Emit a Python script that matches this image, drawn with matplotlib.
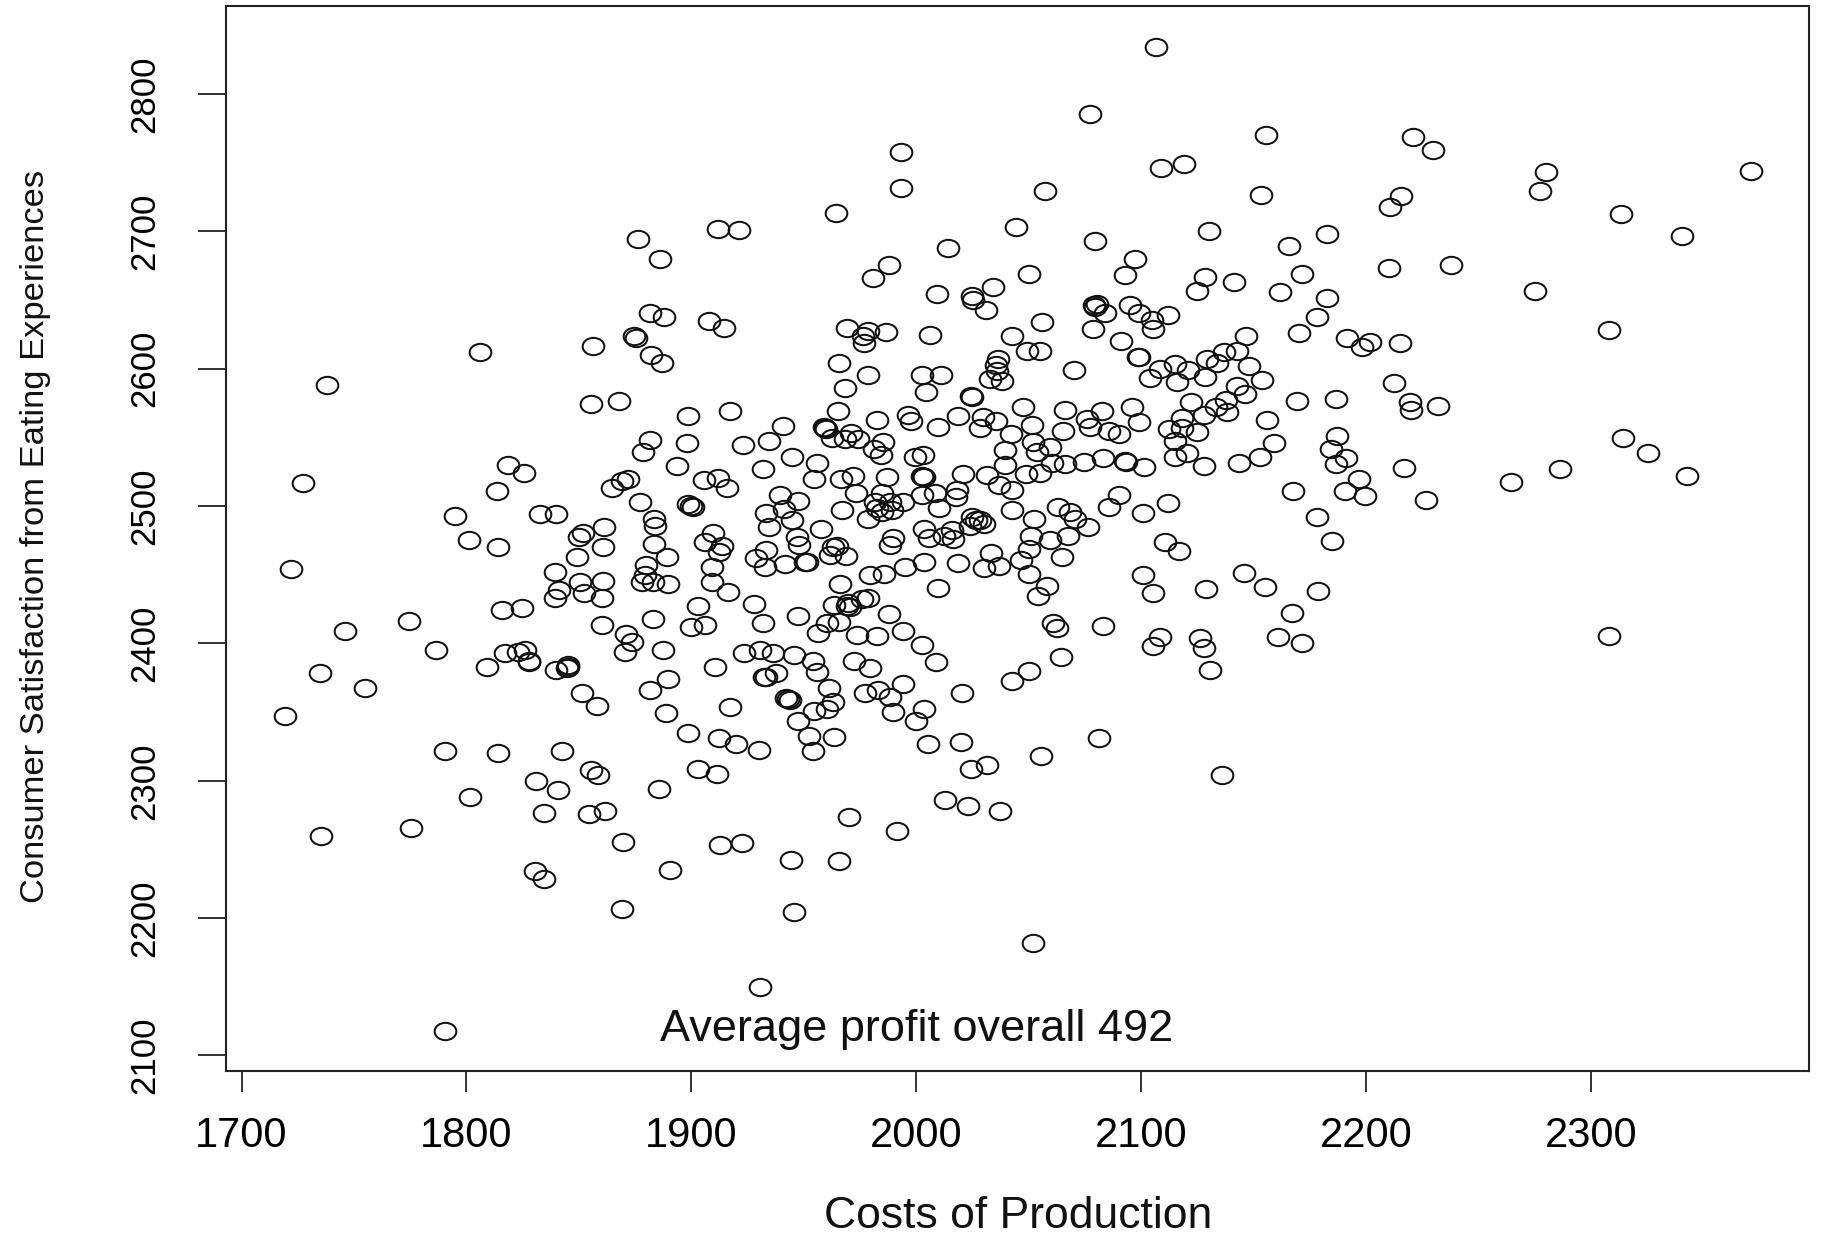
import matplotlib
matplotlib.use("Agg")
import matplotlib.pyplot as plt
from matplotlib.markers import MarkerStyle
from matplotlib.transforms import Affine2D

costs = [
1881.6,1887.9,1907.9,1914.3,1874.7,1875.4,1856.2,1806.2,1882,1887.1,1969.1,1978.7,1986.6,1976.5,1976.8,1965.7,1978.4,1968.5,1855.3,1867.9,
1898.4,1917.2,1965.1,1982.4,1940.9,1959.4,1959,1959.9,1962.4,1968.3,1970.9,1974.3,1985.4,1981.4,1984.4,1934.3,1923.1,1881.6,1878.4,1898.1,
1893.5,1944.6,1956,1931.7,1954.6,1966.4,1972,1987.2,1818.5,1825.5,1813.5,1872,1869,1864.9,1905.7,1912,1916,1877.3,1939.2,1947.2,
1973.1,1941.2,1933.1,1944.9,1934.3,1966.9,1957.8,1978.7,1981.7,1984.6,1988.4,1982.4,1984.6,1989.1,1898.3,1899.9,1900.9,1794.7,1832.9,1839.6,
1883.6,1883.7,1861.2,1852,1850,1801.3,1814.2,1860.6,1883.4,1909.4,1906.1,1913.5,1912.3,1849.3,1889.1,1879.7,1909.2,1933.2,1928.8,1932.6,
1941.7,1946.9,1947.9,1950.6,1951.6,1964.6,1962.9,1961.7,1968.8,1989.5,1988.4,1839.4,1850.5,1860.6,1841.3,1852.3,1839.3,1860.2,1879.4,1877.9,
1883.1,1889.8,1909.2,1916.5,1979.5,1985.7,1966.1,1927.9,1903.1,1978.7,1975.8,1969.8,1969.1,1963.2,1970.6,1815.7,1824.9,1947.6,1987.9,1774.6,
1883,1899.9,1906.1,1932,1860.2,1965.8,1960.5,1956.2,1973.5,1982.4,1870.8,1873.5,
1786.5,1817.2,1823.1,1826,1827.6,1828,1870.5,1887.3,1923.4,1930.6,1936.5,1945.8,1954.3,1955.8,1972.3,1979.2,1809,1839.7,1845.3,1845,
1844.6,1910.7,1937.5,1933.2,1932.3,1889.8,1881.6,1851.3,1858.2,1888.8,1917.1,1942.1,1943.1,1943.9,1961.4,1962.9,1960.5,1954.6,1947.6,1977.2,
1983.2,1988.4,1989.8,1898.5,1912.3,1919.9,1930.1,1952.3,1963.2,1954,1790.4,1814.2,1842.4,1855.4,1858.4,1903.1,1911.3,1831,1840.5,
1885.7,1801.8,1834.5,1854.4,1861.8,1775.5,1970.1,1991.3,1869.6,1912.6,1922.4,1944.2,1965.5,1830.5,1834.5,1890.5,1869.3,1945.5,1930.3,
2030.9,2056.1,2078.8,2079.5,2080.2,2084,2095,2099.2,2104.7,2112.1,2105.4,2078.5,2178.3,2170.2,2042.6,2006.3,
2091.2,2146.5,2191.4,2201.8,2198.1,2215.2,2049.1,2055,2036.5,2035.5,2035.8,2032.8,2038,2098.8,2098.5,2069.9,2142.8,2136.6,2129.1,2133.9,
2148.1,2115.1,2108.4,2121,2104,2115.8,2128.3,2153.9,2002.7,2011.2,2004.2,2024.7,2024.4,2142.8,2146.2,2169.4,2186.5,2212.6,2122.2,2137.7,
2133.3,2138,2128,2118,2047.6,2066.2,2082.6,2095.8,2099.2,2076.1,2077.3,2085.9,2090.2,2065.4,2156.1,2112.5,2118,2124.7,1996.5,1997.7,
2009.7,2018.7,2029.6,2035.5,2028.4,2051.3,2042.1,2052.1,2059.5,2053.6,2039.6,2115.2,2159.1,2187,2184.4,2191.1,2186.5,2216.8,2003.2,1999.5,
2114.9,2120.2,2152.9,2143.4,2127.8,2060.2,2066.2,2074.5,2082.9,2092.8,2093.3,2101.1,2039.3,2048.8,2055,2020.7,2031.6,2002.9,2002.4,2003.5,
2196.7,2167.7,2190.6,2199.7,2036.8,2042.7,2018,2017.7,2002.4,2008.1,2010.1,1994.3,2090,2085.9,2112.1,2101,2042.7,2062.9,2068.4,2070.6,
2076.2,2052.5,2178,2024.7,2026.6,2029.9,2028.4,2023.9,2003.6,2015.8,2005.8,2012.1,2016.5,2050.9,2059.5,2067.6,2185,2110.6,2117,
2050.2,2064.8,2033.1,2046.4,2003.5,2018.6,2029.9,2036.7,1995,2050.2,2101,2145.9,2155.1,2128.8,2178.5,2105.4,2009.7,2058.2,2054,2167,
2061,2062.5,2082.9,1994.3,2002.4,2108.4,2105.4,2126.2,2128,2161,2171.4,
2008.7,2064.2,2130.5,2050.2,2042.7,1994.3,2020.5,2003.6,1999.9,2005.2,2019.9,2081.4,2055.5,2135.8,2024.2,2031.6,2012.7,2023.2,2037,2052.1,
2106.7,2077.3,2155.3,2220.9,2229.7,1993,2119.1,2108.8,2279.8,2371.3,1993,2057.1,2277.2,2153.2,2215.7,2210.6,1964.1,2313.4,2044.2,2130,
1911.9,1921.2,2182.6,2340.3,1876.3,2079.3,2014.2,2165.6,1886.1,2097.4,1987.9,2237.9,2210.1,1980.6,2049.9,2092.8,2171.3,2128.4,2141.3,2033.9,
2275.2,2124.8,2161.5,2009.1,2024.6,2025.1,2182.6,2308.2,2219.4,2219.9,2231.8,2264.3,2286,2314.4,2325.3,2342.8,2308.2,2226.6,
1737.8,1727.5,1721.8,1746,1734.7,1754.8,1719.2,1735.2,1790.5,
]

satisfaction = [
2640.4,2638,2635,2629.5,2623.9,2622.7,2616.6,2612.2,2610,2604,2629.5,2627.8,2626.8,2623.9,2619,2604,2595.7,2585.8,2574.6,2576.3,
2565.4,2569.2,2569.2,2562.9,2558.6,2556.6,2557.3,2555.9,2549.3,2548.9,2553,2548.9,2546.9,2541.6,2537.2,2547.2,2544.7,2548.1,2539.6,2546.2,
2529.2,2535.5,2531.1,2527,2520,2520,2522.1,2520.9,2530.2,2524.1,2511,2519.7,2518.3,2513.4,2518.7,2520.4,2512.9,2503.2,2508,2503.4,
2509.3,2497.9,2494.7,2489.8,2484.5,2497.1,2483.1,2490.3,2503.2,2509.8,2503.2,2498.3,2495.9,2497.1,2501.5,2500,2499.6,2493,2494.2,2494.5,
2490.3,2485.5,2484.8,2480.1,2477.2,2475.3,2469.9,2469.9,2472.6,2480.6,2474.1,2471.2,2466.8,2462.9,2462.9,2457.1,2455.9,2468.2,2462.4,2455.9,
2458.1,2477.2,2471.6,2459,2459.5,2470.9,2469.9,2464.4,2463.6,2476.5,2471.6,2451.7,2444.4,2445.4,2438.9,2436.7,2432.8,2432.8,2449.8,2444.9,
2444.9,2443,2444.9,2437.4,2449.5,2450.5,2443,2428.7,2427.2,2433.3,2432.1,2429.2,2427.2,2428,2426.2,2424.3,2426,2419.9,2421.6,2416.3,
2418,2411.9,2413.6,2415.1,2413.4,2415.8,2415.1,2407.8,2406.1,2405.6,2406.8,2401.2,
2395.2,2393.3,2394,2395,2387.4,2386.7,2394,2395.2,2393.3,2395,2393.3,2391.6,2387.2,2379,2387.2,2381.8,2382.6,2380.6,2384.3,2383.1,
2381.8,2382.6,2378.7,2375.8,2375.3,2373.8,2366,2363.6,2354.4,2349.1,2353.9,2360.5,2359.3,2358.8,2367.8,2357.1,2352,2350.8,2343.7,2364.1,
2366,2361.2,2350.3,2335,2331.1,2326.7,2322.4,2332.6,2331.6,2321.4,2321.6,2319.9,2321.9,2307.8,2304.2,2308.5,2304.6,2299.8,2293.5,
2293.7,2288.1,2276.2,2275.7,2278.2,2265.8,2273.3,2263.6,2255.1,2253.2,2254.4,2242.5,2241.8,2234.2,2228.6,2234.9,2206.3,2204.4,2150,
2642.8,2633.8,2646.5,2645.2,2647.2,2640.9,2646.5,2640.9,2635.5,2639.2,2629,2628.7,2638,2625.8,2624.1,2624.8,
2620,2623.9,2622.7,2619.8,2616.1,2619,2613.2,2612.7,2607.1,2602.8,2598.6,2592.6,2591.1,2608.8,2608.3,2599.1,2613,2612.5,2606.9,2604,
2602.3,2603.2,2599.6,2599.1,2593,2590.1,2594.3,2591.8,2595.2,2595.5,2583.1,2579.7,2580.2,2587.5,2581.6,2576.5,2578,2589.6,2575.6,2577.3,
2571.9,2568.8,2566.3,2563.9,2572.4,2569.7,2569,2572.4,2561.2,2563.2,2557.8,2554.7,2552.3,2554.4,2562.9,2556.1,2556.6,2553.7,2566.3,2562,
2557.8,2565.4,2565.1,2562,2556.6,2559.3,2552.5,2546.7,2542.8,2539.4,2541.1,2547.4,2546.2,2551,2541.3,2535.3,2530.4,2527.5,2537.2,2535.5,
2536,2538.4,2536,2531.1,2529.2,2531.6,2530.9,2532.1,2535.3,2532.6,2531.9,2528.5,2529.9,2523.1,2524.3,2523.6,2522.4,2521.4,2521.9,2521.4,
2519.7,2511,2510.7,2507.3,2515.1,2511.7,2511.7,2506.4,2508,2509.3,2498.8,2503.2,2508,2499.3,2502,2494.7,2497.1,2499.6,2495.9,2490.3,
2485,2490.8,2491.8,2492.3,2489.8,2486.9,2489.8,2485.5,2483,2482.6,2476.7,2478.2,2476.3,2478.2,2475.3,2478.2,2474.8,2473.8,2467.5,
2468.7,2462.7,2465.6,2460.5,2459.5,2458.3,2454.6,2456.6,2455.4,2450.8,2449.5,2451,2441,2439.6,2438.1,2436.4,2440.1,2442,2434.2,2422.1,
2415,2411,2412.9,2409,2398.8,2404.4,2398.3,2403.7,2396.4,2404.4,2400,
2386.7,2389.9,2380.6,2379.9,2372.6,2370.2,2363.9,2352.2,2343.7,2327,2327.9,2331.1,2317.7,2303.9,2308.3,2311.7,2285.7,2281.6,2277.9,2181.8,
2834.7,2785.7,2770.4,2768.7,2759.4,2757.7,2749.3,2745.9,2743.3,2744.2,2731.5,2729.8,2729.8,2726.4,2725.6,2718,2713.7,2712.9,2703.6,2700.2,
2701.9,2701,2698.5,2696.8,2694.3,2693.4,2688.3,2689.2,2679.9,2679.9,2675.6,2675.6,2673.1,2666.3,2668.9,2668,2668.9,2667.2,2663,2659.6,
2657,2657,2656.2,2654.5,2652.8,2650.3,2651.9,2628.2,2575.8,2569.9,2573.2,2517.4,2526.7,2549.5,2538.6,2521.6,2405.7,2504.7,
2588.5,2516.5,2453.9,2409,2378.6,2367.6,2347.3,2260.1,2117.9,
]

x_ticks = [1700, 1800, 1900, 2000, 2100, 2200, 2300]
y_ticks = [2100, 2200, 2300, 2400, 2500, 2600, 2700, 2800]
x_label = "Costs of Production"
y_label = "Consumer Satisfaction from Eating Experiences"
note = "Average profit overall 492"
n = min(len(costs), len(satisfaction))

W, H = 1822, 1234
plt.rcParams['font.family'] = ['Liberation Sans', 'DejaVu Sans']
fig = plt.figure(figsize=(W / 100, H / 100), dpi=100)
ax = fig.add_axes([226 / W, 1 - 1070.5 / H, (1809 - 226) / W, (1070.5 - 6) / H])
ax.set_xlim(1693.1, 2396.9)
ax.set_ylim(2089, 2864.2)

oval = MarkerStyle('o', fillstyle='none', transform=Affine2D().scale(1, 0.8))
ax.plot(costs[:n], satisfaction[:n], ls='none', marker=oval, ms=15.6,
        mec='#111111', mew=1.45)

for s in ax.spines.values():
    s.set_linewidth(1.5)
    s.set_color('#222222')

ax.set_xticks(x_ticks)
ax.set_yticks(y_ticks)
ax.tick_params(axis='x', length=15, width=1.3, pad=18, labelsize=30, color='#222222')
ax.tick_params(axis='y', length=20.5, width=1.3, pad=26, labelsize=25, color='#222222')
for t in ax.get_yticklabels():
    t.set_rotation(90)
    t.set_va('center')

ax.text(2000, 2118.5, note, ha='center', va='center', fontsize=32.5, color='#111111')
fig.text(1018 / W, 1 - 1216 / H, x_label, ha='center', va='center', fontsize=32, color='#111111')
fig.text(36 / W, 1 - 536 / H, y_label, rotation=90, ha='center', va='center', fontsize=24.8, color='#111111')

fig.savefig('out.png', dpi=100)
print(len(costs), len(satisfaction))
